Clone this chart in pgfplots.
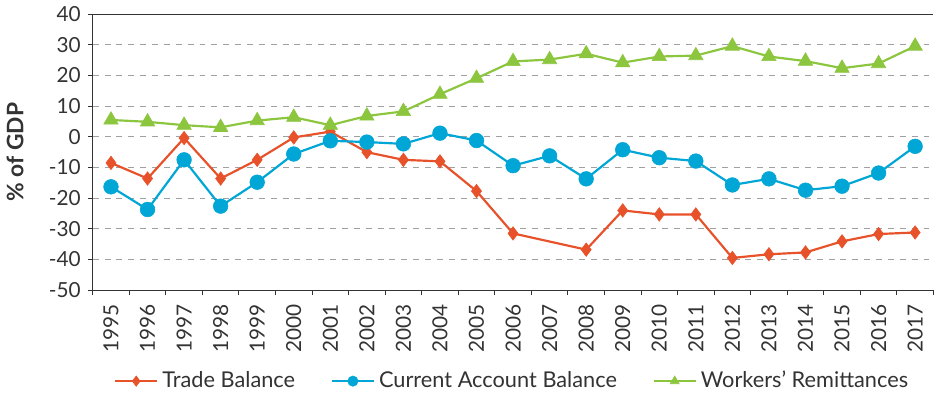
\documentclass[border=0pt]{standalone}
\usepackage{pgfplots}
\pgfplotsset{compat=1.18}
\usepackage{fontspec}
\setmainfont{Lato}
\definecolor{tborange}{HTML}{E8522B}
\definecolor{cablue}{HTML}{00A6D6}
\definecolor{wrgreen}{HTML}{8CC63F}
\definecolor{axcol}{HTML}{333333}
\definecolor{gridcol}{HTML}{A0A0A0}
\begin{document}
\begin{tikzpicture}
\begin{axis}[
  scale only axis,
  width=425pt, height=139.5pt,
  xmin=-0.5, xmax=22.5,
  ymin=-50, ymax=40,
  axis x line*=bottom, axis y line*=left,
  axis line style={draw=axcol, line width=0.6pt},
  ytick={-50,-40,...,30},
  extra y ticks={40},
  extra y tick style={ymajorgrids=true, major grid style={solid, draw=axcol, line width=0.6pt}},
  ymajorgrids,
  major grid style={dashed, draw=gridcol, line width=0.5pt},
  xtick={0,...,22},
  xticklabels={1995,1996,1997,1998,1999,2000,2001,2002,2003,2004,2005,2006,2007,2008,2009,2010,2011,2012,2013,2014,2015,2016,2017},
  minor xtick={-0.5,0.5,...,22.5},
  x tick label style={rotate=90, anchor=east, font=\fontsize{10.5}{11}\selectfont, text=axcol, xshift=-1pt},
  y tick label style={font=\fontsize{10.5}{11}\selectfont, text=axcol},
  tick align=outside,
  major tick length=2.5pt,
  minor tick length=2.5pt,
  xtick style={draw=none},
  minor x tick style={draw=axcol, line width=0.5pt},
  ytick style={draw=axcol, line width=0.5pt},
  /pgf/number format/assume math mode=true,
  ylabel={\textbf{\% of GDP}},
  ylabel style={font=\fontsize{11.5}{12}\selectfont, text=axcol},
  ylabel shift=1pt,
  legend columns=3,
  legend style={at={(0.5,0)}, anchor=center, yshift=-46pt, draw=none, fill=none,
    font=\fontsize{11}{12}\selectfont, text=axcol,
    /tikz/every even column/.append style={column sep=16pt}},
  legend image code/.code={\draw[#1] (0cm,0cm) -- (0.75cm,0cm); \draw[#1, only marks, mark size=2.6pt] plot coordinates {(0.375cm,0cm)};},
  every axis plot/.append style={line width=1.1pt},
]
\addplot[color=tborange, mark=diamond*, mark size=3.4pt, mark options={fill=tborange, draw=tborange, line width=0.3pt}] table {
x y
0 -8.5
1 -13.6
2 -0.4
3 -13.6
4 -7.5
5 -0.2
6 1.7
7 -5.0
8 -7.5
9 -8.0
10 -17.7
11 -31.5
13 -36.8
14 -24.0
15 -25.3
16 -25.3
17 -39.5
18 -38.3
19 -37.7
20 -34.1
21 -31.7
22 -31.2
};
\addlegendentry{Trade Balance}
\addplot[color=cablue, mark=*, mark size=3.7pt, mark options={fill=cablue, draw=cablue, line width=0.3pt}] table {
x y
0 -16.3
1 -23.7
2 -7.5
3 -22.6
4 -14.8
5 -5.6
6 -1.3
7 -1.7
8 -2.3
9 1.2
10 -1.2
11 -9.4
12 -6.2
13 -13.7
14 -4.2
15 -6.8
16 -7.9
17 -15.7
18 -13.7
19 -17.4
20 -16.1
21 -11.8
22 -3.1
};
\addlegendentry{Current Account Balance}
\addplot[color=wrgreen, mark=triangle*, mark size=4.2pt, mark options={fill=wrgreen, draw=wrgreen, line width=0.3pt}] table {
x y
0 5.5
1 4.9
2 3.8
3 3.1
4 5.3
5 6.4
6 3.8
7 6.8
8 8.3
9 13.9
10 19.1
11 24.6
12 25.2
13 27.1
14 24.2
15 26.2
16 26.5
17 29.6
18 26.2
19 24.7
20 22.4
21 23.9
22 29.6
};
\addlegendentry{Workers’ Remittances}
\end{axis}
\end{tikzpicture}
\end{document}
